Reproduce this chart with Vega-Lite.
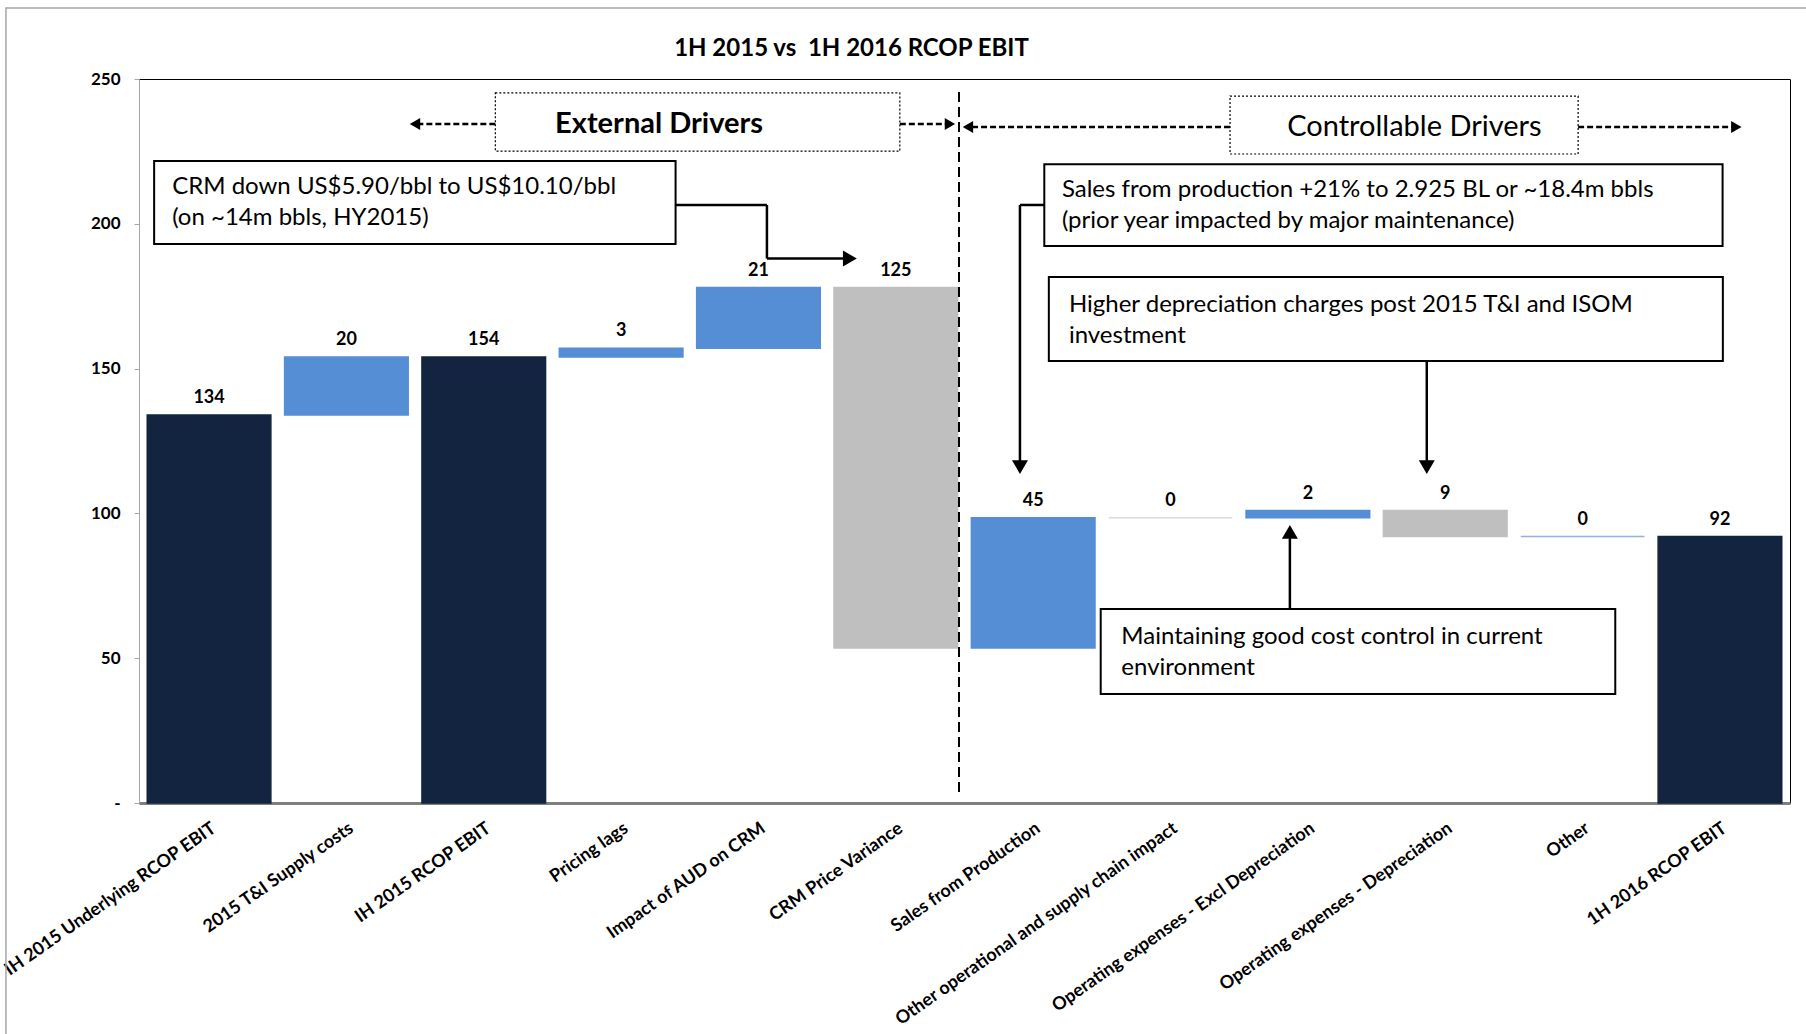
{
  "$schema": "https://vega.github.io/schema/vega-lite/v6.json",
  "width": 1651,
  "height": 724,
  "autosize": {"type": "none"},
  "padding": {"left": 139, "top": 79, "right": 16, "bottom": 231},
  "background": "#ffffff",
  "title": {"text": "1H 2015 vs\u00a0 1H 2016 RCOP EBIT", "font": "Lato", "fontSize": 24, "fontWeight": "bold", "color": "#000000", "anchor": "middle", "frame": "group", "dx": -113, "offset": -54},
  "config": {"view": {"stroke": "#000000", "strokeWidth": 1}, "font": "Lato"},
  "resolve": {"scale": {"x": "independent", "y": "independent"}, "axis": {"x": "independent", "y": "independent"}},
  "layer": [
    {
      "data": {"values": [
        {"label": "IH 2015 Underlying RCOP EBIT", "start": 0, "end": 134, "amount": 134, "kind": "total"},
        {"label": "2015 T&I Supply costs", "start": 134, "end": 154, "amount": 20, "kind": "increase"},
        {"label": "IH 2015 RCOP EBIT", "start": 0, "end": 154, "amount": 154, "kind": "total"},
        {"label": "Pricing lags", "start": 154, "end": 157, "amount": 3, "kind": "increase"},
        {"label": "Impact of AUD on CRM", "start": 157, "end": 178, "amount": 21, "kind": "increase"},
        {"label": "CRM Price Variance", "start": 178, "end": 53.5, "amount": 125, "kind": "decrease"},
        {"label": "Sales from Production", "start": 53.5, "end": 98.5, "amount": 45, "kind": "increase"},
        {"label": "Other operational and supply chain impact", "start": 98.5, "end": 98.5, "amount": 0, "kind": "zero-gray"},
        {"label": "Operating expenses - Excl Depreciation", "start": 98.5, "end": 101, "amount": 2, "kind": "increase"},
        {"label": "Operating expenses - Depreciation", "start": 101, "end": 92, "amount": 9, "kind": "decrease"},
        {"label": "Other", "start": 92, "end": 92, "amount": 0, "kind": "zero-blue"},
        {"label": "1H 2016 RCOP EBIT", "start": 0, "end": 92, "amount": 92, "kind": "total"}
      ]},
      "transform": [{"calculate": "max(datum.start, datum.end)", "as": "top"}],
      "layer": [
        {
          "mark": {"type": "bar", "strokeWidth": 1.5},
          "encoding": {
            "x": {"field": "label", "type": "nominal", "sort": null,
              "scale": {"paddingInner": 0.1, "paddingOuter": 0.06},
              "axis": {"title": null, "labelAngle": -35, "labelAlign": "right", "labelBaseline": "top", "labelPadding": 16, "labelFontSize": 18, "labelFontWeight": "bold", "labelColor": "#000000", "labelLimit": 0, "labelOverlap": false, "ticks": false, "domainColor": "#7F7F7F", "domainWidth": 3}},
            "y": {"field": "start", "type": "quantitative",
              "scale": {"domain": [0, 250], "nice": false},
              "axis": {"title": null, "values": [0, 50, 100, 150, 200, 250], "labelExpr": "datum.value == 0 ? '-\u00a0\u00a0' : datum.label", "labelFontSize": 17, "labelFontWeight": "bold", "labelColor": "#000000", "labelPadding": 14, "tickColor": "#A6A6A6", "tickSize": 5, "domainColor": "#A6A6A6", "grid": false}},
            "y2": {"field": "end"},
            "color": {"field": "kind", "type": "nominal", "scale": {"domain": ["total", "increase", "decrease", "zero-gray", "zero-blue"], "range": ["#12243F", "#558ED5", "#BFBFBF", "#D9D9D9", "#8DB4E2"]}, "legend": null},
            "stroke": {"field": "kind", "type": "nominal", "scale": {"domain": ["total", "increase", "decrease", "zero-gray", "zero-blue"], "range": ["#12243F", "#558ED5", "#BFBFBF", "#D9D9D9", "#8DB4E2"]}, "legend": null}
          }
        },
        {
          "mark": {"type": "text", "baseline": "alphabetic", "dy": -12, "fontSize": 18, "fontWeight": "bold", "color": "#000000"},
          "encoding": {
            "x": {"field": "label", "type": "nominal", "sort": null},
            "y": {"field": "top", "type": "quantitative"},
            "text": {"field": "amount", "type": "quantitative"}
          }
        }
      ]
    },
    {
      "data": {"values": [{}]},
      "layer": [
        {"mark": {"type": "rect", "fillOpacity": 0, "stroke": "#A6A6A6", "strokeWidth": 1.5},
         "encoding": {"x": {"datum": -0.967, "type": "quantitative", "scale": {"domain": [0, 12], "nice": false, "zero": false}, "axis": null}, "x2": {"datum": 12.3}, "y": {"datum": 274.5, "type": "quantitative", "scale": {"domain": [0, 250], "nice": false, "zero": false}, "axis": null}, "y2": {"datum": -100}}},
        {"mark": {"type": "rule", "color": "#000000", "strokeWidth": 2, "strokeDash": [10, 5]},
         "encoding": {"x": {"datum": 5.96, "type": "quantitative", "axis": null}, "y": {"datum": 245.5, "type": "quantitative", "axis": null}, "y2": {"datum": 3.8}}},

        {"mark": {"type": "rect", "fill": "#ffffff", "stroke": "#000000", "strokeWidth": 1.2, "strokeDash": [2, 2]},
         "encoding": {"x": {"datum": 2.59, "type": "quantitative", "axis": null}, "x2": {"datum": 5.53}, "y": {"datum": 245.2, "type": "quantitative", "axis": null}, "y2": {"datum": 225.1}}},
        {"mark": {"type": "text", "text": "External Drivers", "align": "center", "baseline": "middle", "fontSize": 29, "fontWeight": "bold", "color": "#000000"},
         "encoding": {"x": {"datum": 3.78, "type": "quantitative", "axis": null}, "y": {"datum": 234.5, "type": "quantitative", "axis": null}}},
        {"mark": {"type": "rule", "color": "#000000", "strokeWidth": 2.5, "strokeDash": [6, 3]},
         "encoding": {"x": {"datum": 2.59, "type": "quantitative", "axis": null}, "x2": {"datum": 2.03}, "y": {"datum": 234.5, "type": "quantitative", "axis": null}}},
        {"mark": {"type": "point", "shape": "triangle-left", "filled": true, "color": "#000000", "opacity": 1, "size": 144},
         "encoding": {"x": {"datum": 2.006, "type": "quantitative", "axis": null}, "y": {"datum": 234.5, "type": "quantitative", "axis": null}}},
        {"mark": {"type": "rule", "color": "#000000", "strokeWidth": 2.5, "strokeDash": [6, 3]},
         "encoding": {"x": {"datum": 5.53, "type": "quantitative", "axis": null}, "x2": {"datum": 5.88}, "y": {"datum": 234.5, "type": "quantitative", "axis": null}}},
        {"mark": {"type": "point", "shape": "triangle-right", "filled": true, "color": "#000000", "opacity": 1, "size": 144},
         "encoding": {"x": {"datum": 5.894, "type": "quantitative", "axis": null}, "y": {"datum": 234.5, "type": "quantitative", "axis": null}}},

        {"mark": {"type": "rect", "fill": "#ffffff", "stroke": "#000000", "strokeWidth": 1.2, "strokeDash": [2, 2]},
         "encoding": {"x": {"datum": 7.93, "type": "quantitative", "axis": null}, "x2": {"datum": 10.46}, "y": {"datum": 244.1, "type": "quantitative", "axis": null}, "y2": {"datum": 224.1}}},
        {"mark": {"type": "text", "text": "Controllable Drivers", "align": "center", "baseline": "middle", "fontSize": 29, "color": "#000000"},
         "encoding": {"x": {"datum": 9.27, "type": "quantitative", "axis": null}, "y": {"datum": 233.4, "type": "quantitative", "axis": null}}},
        {"mark": {"type": "rule", "color": "#000000", "strokeWidth": 2.5, "strokeDash": [6, 3]},
         "encoding": {"x": {"datum": 7.93, "type": "quantitative", "axis": null}, "x2": {"datum": 6.04}, "y": {"datum": 233.4, "type": "quantitative", "axis": null}}},
        {"mark": {"type": "point", "shape": "triangle-left", "filled": true, "color": "#000000", "opacity": 1, "size": 144},
         "encoding": {"x": {"datum": 6.025, "type": "quantitative", "axis": null}, "y": {"datum": 233.4, "type": "quantitative", "axis": null}}},
        {"mark": {"type": "rule", "color": "#000000", "strokeWidth": 2.5, "strokeDash": [6, 3]},
         "encoding": {"x": {"datum": 10.46, "type": "quantitative", "axis": null}, "x2": {"datum": 11.6}, "y": {"datum": 233.4, "type": "quantitative", "axis": null}}},
        {"mark": {"type": "point", "shape": "triangle-right", "filled": true, "color": "#000000", "opacity": 1, "size": 144},
         "encoding": {"x": {"datum": 11.61, "type": "quantitative", "axis": null}, "y": {"datum": 233.4, "type": "quantitative", "axis": null}}},

        {"mark": {"type": "rect", "fill": "#ffffff", "stroke": "#000000", "strokeWidth": 2},
         "encoding": {"x": {"datum": 0.11, "type": "quantitative", "axis": null}, "x2": {"datum": 3.9}, "y": {"datum": 221.7, "type": "quantitative", "axis": null}, "y2": {"datum": 193.0}}},
        {"mark": {"type": "text", "text": ["CRM down US$5.90/bbl to US$10.10/bbl", "(on ~14m bbls, HY2015)"], "align": "left", "baseline": "middle", "lineHeight": 31, "fontSize": 24, "color": "#000000"},
         "encoding": {"x": {"datum": 0.241, "type": "quantitative", "axis": null}, "y": {"datum": 212.7, "type": "quantitative", "axis": null}}},
        {"mark": {"type": "rule", "color": "#000000", "strokeWidth": 2.5},
         "encoding": {"x": {"datum": 3.9, "type": "quantitative", "axis": null}, "x2": {"datum": 4.564}, "y": {"datum": 206.5, "type": "quantitative", "axis": null}}},
        {"mark": {"type": "rule", "color": "#000000", "strokeWidth": 2.5},
         "encoding": {"x": {"datum": 4.564, "type": "quantitative", "axis": null}, "y": {"datum": 206.5, "type": "quantitative", "axis": null}, "y2": {"datum": 188.0}}},
        {"mark": {"type": "rule", "color": "#000000", "strokeWidth": 2.5},
         "encoding": {"x": {"datum": 4.564, "type": "quantitative", "axis": null}, "x2": {"datum": 5.16}, "y": {"datum": 188.0, "type": "quantitative", "axis": null}}},
        {"mark": {"type": "point", "shape": "triangle-right", "filled": true, "color": "#000000", "opacity": 1, "size": 256},
         "encoding": {"x": {"datum": 5.167, "type": "quantitative", "axis": null}, "y": {"datum": 188.0, "type": "quantitative", "axis": null}}},

        {"mark": {"type": "rect", "fill": "#ffffff", "stroke": "#000000", "strokeWidth": 2},
         "encoding": {"x": {"datum": 6.58, "type": "quantitative", "axis": null}, "x2": {"datum": 11.51}, "y": {"datum": 220.6, "type": "quantitative", "axis": null}, "y2": {"datum": 192.3}}},
        {"mark": {"type": "text", "text": ["Sales from production +21% to 2.925 BL or ~18.4m bbls", "(prior year impacted by major maintenance)"], "align": "left", "baseline": "middle", "lineHeight": 31, "fontSize": 24, "color": "#000000"},
         "encoding": {"x": {"datum": 6.708, "type": "quantitative", "axis": null}, "y": {"datum": 211.7, "type": "quantitative", "axis": null}}},
        {"mark": {"type": "rule", "color": "#000000", "strokeWidth": 2.5},
         "encoding": {"x": {"datum": 6.58, "type": "quantitative", "axis": null}, "x2": {"datum": 6.403}, "y": {"datum": 206.5, "type": "quantitative", "axis": null}}},
        {"mark": {"type": "rule", "color": "#000000", "strokeWidth": 2.5},
         "encoding": {"x": {"datum": 6.403, "type": "quantitative", "axis": null}, "y": {"datum": 206.5, "type": "quantitative", "axis": null}, "y2": {"datum": 117}}},
        {"mark": {"type": "point", "shape": "triangle-down", "filled": true, "color": "#000000", "opacity": 1, "size": 256},
         "encoding": {"x": {"datum": 6.403, "type": "quantitative", "axis": null}, "y": {"datum": 116.0, "type": "quantitative", "axis": null}}},

        {"mark": {"type": "rect", "fill": "#ffffff", "stroke": "#000000", "strokeWidth": 2},
         "encoding": {"x": {"datum": 6.613, "type": "quantitative", "axis": null}, "x2": {"datum": 11.512}, "y": {"datum": 181.6, "type": "quantitative", "axis": null}, "y2": {"datum": 152.6}}},
        {"mark": {"type": "text", "text": ["Higher depreciation charges post 2015 T&I and ISOM", "investment"], "align": "left", "baseline": "middle", "lineHeight": 31, "fontSize": 24, "color": "#000000"},
         "encoding": {"x": {"datum": 6.759, "type": "quantitative", "axis": null}, "y": {"datum": 172.0, "type": "quantitative", "axis": null}}},
        {"mark": {"type": "rule", "color": "#000000", "strokeWidth": 2.5},
         "encoding": {"x": {"datum": 9.36, "type": "quantitative", "axis": null}, "y": {"datum": 152.6, "type": "quantitative", "axis": null}, "y2": {"datum": 117}}},
        {"mark": {"type": "point", "shape": "triangle-down", "filled": true, "color": "#000000", "opacity": 1, "size": 256},
         "encoding": {"x": {"datum": 9.36, "type": "quantitative", "axis": null}, "y": {"datum": 116.0, "type": "quantitative", "axis": null}}},

        {"mark": {"type": "rect", "fill": "#ffffff", "stroke": "#000000", "strokeWidth": 2},
         "encoding": {"x": {"datum": 6.99, "type": "quantitative", "axis": null}, "x2": {"datum": 10.73}, "y": {"datum": 67.0, "type": "quantitative", "axis": null}, "y2": {"datum": 37.6}}},
        {"mark": {"type": "text", "text": ["Maintaining good cost control in current", "environment"], "align": "left", "baseline": "middle", "lineHeight": 31, "fontSize": 24, "color": "#000000"},
         "encoding": {"x": {"datum": 7.14, "type": "quantitative", "axis": null}, "y": {"datum": 57.3, "type": "quantitative", "axis": null}}},
        {"mark": {"type": "rule", "color": "#000000", "strokeWidth": 2.5},
         "encoding": {"x": {"datum": 8.365, "type": "quantitative", "axis": null}, "y": {"datum": 67.0, "type": "quantitative", "axis": null}, "y2": {"datum": 92.5}}},
        {"mark": {"type": "point", "shape": "triangle-up", "filled": true, "color": "#000000", "opacity": 1, "size": 256},
         "encoding": {"x": {"datum": 8.365, "type": "quantitative", "axis": null}, "y": {"datum": 93.6, "type": "quantitative", "axis": null}}}
      ]
    }
  ]
}
